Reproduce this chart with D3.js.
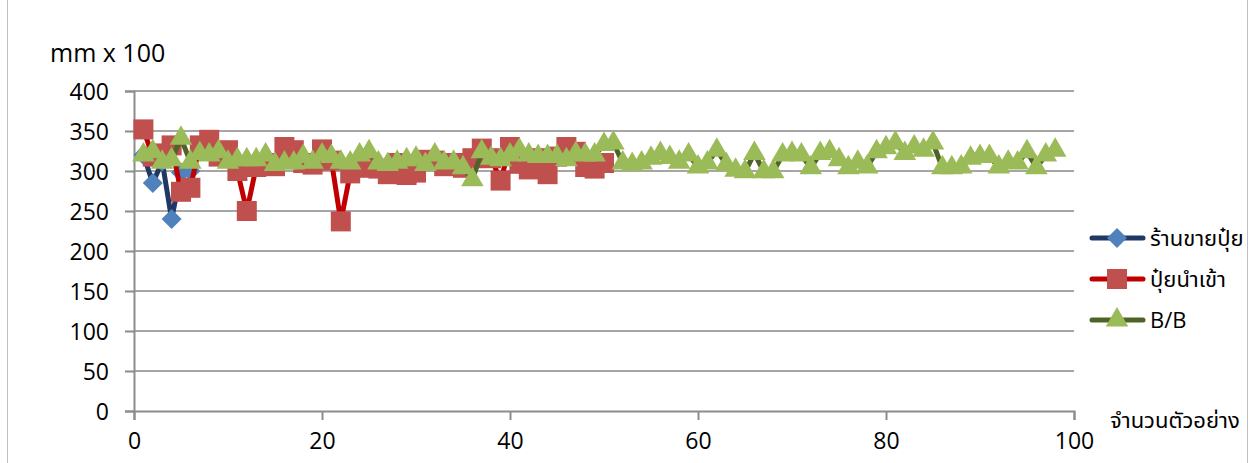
<!DOCTYPE html>
<html>
<head>
<meta charset="utf-8">
<script src="https://cdn.jsdelivr.net/npm/d3@7"></script>
<style>
  body { margin: 0; background: #fff; }
  text { font-family: "Open Sans", "Noto Sans", "Noto Sans Thai", Tahoma, sans-serif; fill: #000; }
</style>
</head>
<body>
<script>
// values, sample number = index + 1
const shopVals = [320, 285, 312, 240, 298, 300];
const importVals = [352, 318, 322, 332, 274, 279, 332, 339, 318, 326,
  300, 250, 305, 310, 306, 330, 326, 310, 308, 327,
  313, 237, 297, 304, 305, 303, 296, 310, 295, 298,
  314, 313, 306, 310, 304, 316, 328, 316, 288, 330,
  309, 302, 316, 296, 318, 330, 324, 305, 303, 310];
const bbVals = [320, 324, 311, 314, 341, 311, 322, 320, 324, 311,
  314, 314, 314, 320, 308, 310, 310, 318, 311, 320,
  318, 311, 310, 320, 324, 310, 308, 311, 314, 316,
  308, 320, 310, 311, 304, 289, 324, 316, 314, 320,
  326, 320, 318, 318, 318, 314, 322, 320, 320, 333,
  335, 310, 308, 310, 316, 322, 317, 311, 320, 305,
  310, 326, 308, 301, 299, 322, 299, 299, 320, 322,
  320, 304, 322, 324, 314, 304, 311, 305, 324, 329,
  335, 322, 330, 326, 335, 304, 304, 305, 316, 318,
  318, 305, 311, 310, 324, 304, 320, 326];
const yTicks = [0, 50, 100, 150, 200, 250, 300, 350, 400];
const xTicks = [0, 20, 40, 60, 80, 100];
const seriesNames = ['ร้านขายปุ๋ย', 'ปุ๋ยนำเข้า', 'B/B'];

const W = 1256, H = 463;
const svg = d3.select(document.body).append('svg')
  .attr('width', W).attr('height', H);

// chart border
svg.append('rect')
  .attr('x', 7.5).attr('y', -2).attr('width', 1240).attr('height', H + 4)
  .attr('fill', 'none').attr('stroke', '#bfbfbf').attr('stroke-width', 1);

const x = d3.scaleLinear().domain([0, 100]).range([134, 1074]);
const y = d3.scaleLinear().domain([0, 400]).range([411, 91]);

// gridlines
svg.append('g')
  .selectAll('line')
  .data(yTicks.slice(1))
  .enter().append('line')
  .attr('x1', x(0)).attr('x2', x(100))
  .attr('y1', d => y(d)).attr('y2', d => y(d))
  .attr('stroke', '#a6a6a6').attr('stroke-width', 2);

// axes
let yAxis = svg.append('g')
  .attr('transform', `translate(${x(0)},0)`)
  .call(d3.axisLeft(y).tickValues(yTicks).tickSize(9).tickPadding(16));
let xAxis = svg.append('g')
  .attr('transform', `translate(0,${y(0)})`)
  .call(d3.axisBottom(x).tickValues(xTicks).tickSize(9).tickPadding(13));
[yAxis, xAxis].forEach(a => {
  a.select('.domain').attr('stroke', '#8c8c8c').attr('stroke-width', 2);
  a.selectAll('.tick line').attr('stroke', '#8c8c8c').attr('stroke-width', 2);
  a.selectAll('.tick text').style('font-size', '23px').attr('fill', '#000');
});
yAxis.selectAll('.tick text').attr('dy', '0.36em');

svg.append('text').attr('x', 50).attr('y', 62)
  .style('font-size', '25px').text('mm x 100');
svg.append('text').attr('x', 1110).attr('y', 428)
  .style('font-size', '22px').text('จำนวนตัวอย่าง');

const series = [
  { vals: shopVals, line: '#1f3864', fill: '#4f81bd', sym: d3.symbolSquare, size: 200, rot: 45 },
  { vals: importVals, line: '#c00000', fill: '#c0504d', sym: d3.symbolSquare, size: 400, rot: 0 },
  { vals: bbVals, line: '#4f6228', fill: '#9bbb59', sym: d3.symbolTriangle, size: 220, rot: 0 }
];

const line = d3.line()
  .x((d, i) => x(i + 1))
  .y(d => y(d));

series.forEach(s => {
  let g = svg.append('g');
  g.append('path')
    .attr('d', line(s.vals))
    .attr('fill', 'none')
    .attr('stroke', s.line)
    .attr('stroke-width', 5)
    .attr('stroke-linejoin', 'round');
  g.selectAll('path.mk')
    .data(s.vals)
    .enter().append('path')
    .attr('class', 'mk')
    .attr('d', d3.symbol().type(s.sym).size(s.size))
    .attr('transform', (d, i) => `translate(${x(i + 1)},${y(d)}) rotate(${s.rot})`)
    .attr('fill', s.fill);
});

// legend
const leg = svg.append('g');
series.forEach((s, i) => {
  let ly = 238 + i * 41;
  leg.append('line')
    .attr('x1', 1092).attr('x2', 1143).attr('y1', ly).attr('y2', ly)
    .attr('stroke', s.line).attr('stroke-width', 5).attr('stroke-linecap', 'round');
  leg.append('path')
    .attr('d', d3.symbol().type(s.sym).size(s.size))
    .attr('transform', `translate(1117,${ly}) rotate(${s.rot})`)
    .attr('fill', s.fill);
  leg.append('text')
    .attr('x', 1150).attr('y', ly + 8)
    .style('font-size', '22px')
    .text(seriesNames[i]);
});
</script>
</body>
</html>
